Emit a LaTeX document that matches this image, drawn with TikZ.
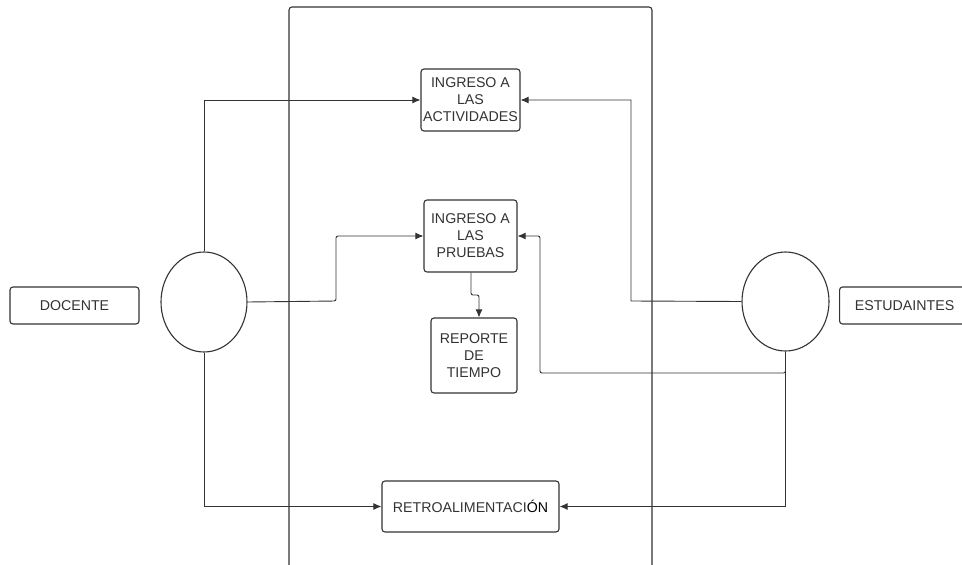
\documentclass[tikz,border=0pt]{standalone}
\usepackage{fontspec}
\setmainfont{Liberation Sans}
\usetikzlibrary{arrows.meta,shapes.geometric}
\definecolor{ln}{HTML}{333333}
\definecolor{tx}{HTML}{333333}
\tikzset{
  box/.style={draw=ln, line width=1.1pt, rounded corners=3pt, fill=white, align=center, text=tx, font=\fontsize{14.2}{17}\selectfont, inner sep=0pt},
  oval/.style={draw=ln, line width=1.1pt, ellipse, fill=white, inner sep=0pt},
  con/.style={draw=ln, line width=0.9pt},
  arr/.style={con, -{Latex[length=8pt,width=7pt]}},
}
\begin{document}
\begin{tikzpicture}[x=1pt,y=-1pt]
\useasboundingbox (0,0) rectangle (962,565);
\begin{scope}
\clip (0,0) rectangle (962,565);
\draw[ln, line width=1.1pt, rounded corners=3pt] (289,600) -- (289,7) -- (652,7) -- (652,600);
\node[box, minimum width=129pt, minimum height=37pt] (doc) at (74.5,305.5) {DOCENTE};
\node[box, minimum width=130pt, minimum height=37pt, anchor=west] (est) at (839,305.5) {ESTUDAINTES};
\end{scope}
\node[oval, minimum width=86pt, minimum height=100pt] (e1) at (204,302) {};
\node[oval, minimum width=87pt, minimum height=99pt] (e2) at (785.5,301.5) {};
\node[box, minimum width=99pt, minimum height=62pt] (act) at (470.5,100) {INGRESO A\\LAS\\ACTIVIDADES};
\node[box, minimum width=93pt, minimum height=72pt] (pru) at (470.5,236) {INGRESO A\\LAS\\PRUEBAS};
\node[box, minimum width=86pt, minimum height=75pt] (rep) at (474,355.5) {REPORTE\\DE\\TIEMPO};
\node[box, minimum width=177pt, minimum height=51pt] (ret) at (470.5,506.5) {RETROALIMENTACI{\color{black}ÓN}};
% connectors
\draw[arr] (e1.north) |- (act.west);
\coordinate (c1) at (336,301);
\draw[arr, rounded corners=2pt] (e1.east) -- (c1) |- (pru.west);
\draw[arr] (e1.south) |- (ret.west);
\coordinate (c2) at (631,301);
\draw[arr] (e2.west) -- (c2) |- (act.east);
\coordinate (c3) at (540,373);
\draw[arr, rounded corners=2pt] (e2.south) |- (c3) |- (pru.east);
\draw[arr] (e2.south) |- (ret.east);
\coordinate (c4) at (471,295);
\coordinate (c5) at (479,295);
\draw[arr, rounded corners=2pt] (pru.south -| c4) -- (c4) -- (c5) -- (rep.north -| c5);
\end{tikzpicture}
\end{document}
